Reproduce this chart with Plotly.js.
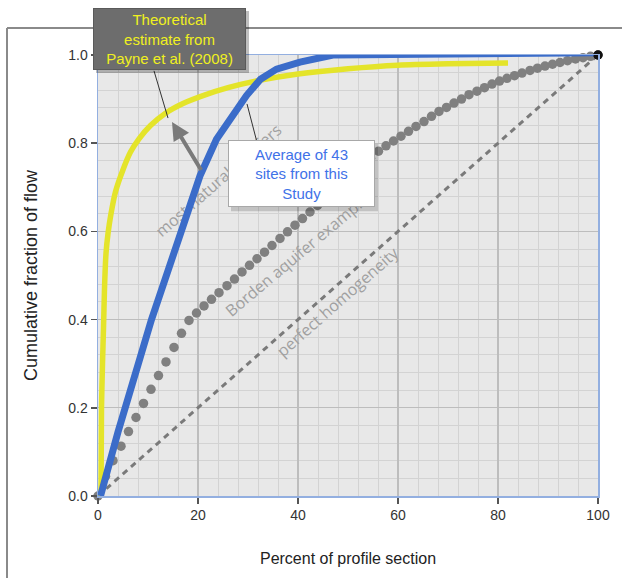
<!DOCTYPE html>
<html>
<head>
<meta charset="utf-8">
<script src="https://cdn.plot.ly/plotly-3.0.1.min.js"></script>
<style>
  html, body { margin: 0; padding: 0; background: #ffffff; }
  #chart { width: 622px; height: 578px; }
</style>
</head>
<body>
<div id="chart"></div>
<script>
// ---- Data ----
const xTicks = [0, 20, 40, 60, 80, 100];
const yTicks = [0.0, 0.2, 0.4, 0.6, 0.8, 1.0];

// Perfect homogeneity (dashed)
const homogX = [0, 100];
const homogY = [0, 1];

// Borden aquifer example (dotted)
const bordenX = [0,1.5,3.0,4.6,6.1,7.6,9.1,10.6,12.1,13.6,15.2,16.7,18.2,19.7,21.2,22.7,24.2,25.8,27.3,28.8,30.3,31.8,33.3,34.8,36.4,37.9,39.4,40.9,42.4,43.9,45.5,47.0,48.5,50.0,51.5,53.0,54.5,56.1,57.6,59.1,60.6,62.1,63.6,65.2,66.7,68.2,69.7,71.2,72.7,74.2,75.8,77.3,78.8,80.3,81.8,83.3,84.8,86.4,87.9,89.4,90.9,92.4,93.9,95.5,97.0,98.5,100];
const bordenY = [0,0.045,0.08,0.113,0.146,0.178,0.21,0.242,0.273,0.304,0.337,0.369,0.398,0.415,0.431,0.446,0.461,0.477,0.492,0.508,0.523,0.538,0.553,0.568,0.584,0.599,0.614,0.629,0.644,0.659,0.675,0.69,0.704,0.72,0.735,0.75,0.766,0.782,0.794,0.805,0.816,0.827,0.838,0.849,0.861,0.872,0.881,0.891,0.9,0.91,0.918,0.926,0.934,0.941,0.947,0.953,0.959,0.965,0.97,0.975,0.979,0.983,0.987,0.991,0.994,0.997,1.0];

// Theoretical estimate from Payne et al. (2008) (yellow)
const payneX = [0.6, 0.7, 0.9, 1.1, 1.3, 1.6, 2.0, 2.6, 3.5, 5.0, 6.5, 8.2, 10.5, 13.5, 17, 21, 26, 32, 40, 50, 60, 70, 82];
const payneY = [0.0, 0.2, 0.3, 0.38, 0.47, 0.55, 0.595, 0.64, 0.69, 0.74, 0.78, 0.81, 0.84, 0.868, 0.89, 0.908, 0.926, 0.942, 0.957, 0.969, 0.977, 0.98, 0.982];

// Average of 43 sites from this Study (blue)
const studyX = [0.5, 4, 10.7, 13.1, 16.4, 20.4, 23.7, 26.4, 29.7, 32.5, 35.7, 40.4, 47, 99.5];
const studyY = [0, 0.145, 0.40, 0.483, 0.597, 0.726, 0.809, 0.855, 0.908, 0.945, 0.968, 0.984, 1.0, 1.005];

// Text
const xTitle = 'Percent of profile section';
const yTitle = 'Cumulative fraction of flow';
const payneLabel = 'Theoretical<br>estimate from<br>Payne et al. (2008)';
const studyLabel = 'Average of 43<br>sites from this<br>Study';
const lblNatural = 'most natural aquifers';
const lblBorden = 'Borden aquifer example';
const lblHomog = 'perfect homogeneity';

// ---- Traces ----
const lastIdx = bordenX.length - 1;
const traces = [
  {
    x: homogX, y: homogY, type: 'scatter', mode: 'lines',
    line: { color: '#7a7a7a', width: 3, dash: '6px,5px' },
    hoverinfo: 'skip', cliponaxis: false
  },
  {
    x: bordenX, y: bordenY, type: 'scatter', mode: 'markers',
    marker: { size: 9.5, color: bordenX.map((v, i) => i === lastIdx ? '#111111' : '#808080') },
    hoverinfo: 'skip', cliponaxis: false
  },
  {
    x: payneX, y: payneY, type: 'scatter', mode: 'lines',
    line: { color: '#e4e42a', width: 5.5, shape: 'spline', smoothing: 0.5 },
    hoverinfo: 'skip', cliponaxis: false
  },
  {
    x: studyX, y: studyY, type: 'scatter', mode: 'lines',
    line: { color: '#3b6cc9', width: 7 },
    hoverinfo: 'skip', cliponaxis: false
  },
  {
    x: [bordenX[lastIdx]], y: [bordenY[lastIdx]], type: 'scatter', mode: 'markers',
    marker: { size: 9, color: '#111111' },
    hoverinfo: 'skip', cliponaxis: false
  }
];

const labelFont = { family: 'Open Sans, sans-serif', size: 16, color: '#a0a0a0' };
function textLine(x0, y0, x1, y1, txt) {
  return {
    type: 'line', xref: 'x', yref: 'y', x0: x0, y0: y0, x1: x1, y1: y1,
    layer: 'between',
    line: { color: 'rgba(0,0,0,0)', width: 0 },
    label: { text: txt, font: labelFont, textposition: 'middle', yanchor: 'middle', textangle: 'auto' }
  };
}

const layout = {
  width: 622, height: 578,
  margin: { l: 98, r: 24, t: 55, b: 82 },
  paper_bgcolor: '#ffffff',
  plot_bgcolor: '#e8e8e8',
  showlegend: false,
  font: { family: 'Liberation Sans, Arial, sans-serif', color: '#333' },
  xaxis: {
    range: [0, 100], tickvals: xTicks, ticktext: xTicks.map(String),
    ticks: 'outside', ticklen: 6, tickwidth: 1.5, tickcolor: '#555',
    tickfont: { size: 14, color: '#333' },
    showline: true, linecolor: '#93afe0', linewidth: 1.5, mirror: true,
    showgrid: true, gridcolor: '#bdbdbd', gridwidth: 1.2, zeroline: false,
    minor: { dtick: 4, showgrid: true, gridcolor: '#d3d3d3', gridwidth: 1, ticks: '' },
    title: { text: xTitle, font: { size: 16, color: '#222' }, standoff: 30 },
    fixedrange: true
  },
  yaxis: {
    range: [0, 1], tickvals: yTicks, ticktext: yTicks.map(v => v.toFixed(1)),
    ticks: 'outside', ticklen: 6, tickwidth: 1.5, tickcolor: '#555',
    tickfont: { size: 14, color: '#333' },
    showline: true, linecolor: '#93afe0', linewidth: 1.5, mirror: true,
    showgrid: true, gridcolor: '#bdbdbd', gridwidth: 1.2, zeroline: false,
    minor: { dtick: 0.04, showgrid: true, gridcolor: '#d3d3d3', gridwidth: 1, ticks: '' },
    title: { text: yTitle, font: { size: 18, color: '#222' }, standoff: 26 },
    fixedrange: true
  },
  shapes: [
    // outer frame (top and left)
    { type: 'line', xref: 'paper', yref: 'paper', x0: -0.182, y0: 1.0614, x1: 1.06, y1: 1.0614,
      line: { color: '#8a8a8a', width: 2 } },
    { type: 'line', xref: 'paper', yref: 'paper', x0: -0.182, y0: 1.0614, x1: -0.182, y1: -0.2,
      line: { color: '#8a8a8a', width: 2 } },
    // rotated labels
    textLine(15.16, 0.6245, 33.24, 0.804, lblNatural),
    textLine(30.7, 0.4577, 49.1, 0.633, lblBorden),
    textLine(39, 0.3486, 57, 0.5286, lblHomog),
    // leader lines
    { type: 'line', xref: 'x', yref: 'y', x0: 11.2, y0: 0.964, x1: 14.0, y1: 0.857,
      line: { color: '#333', width: 1 } },
    { type: 'line', xref: 'x', yref: 'y', x0: 31.8, y0: 0.802, x1: 29.8, y1: 0.889,
      line: { color: '#333', width: 1 } },
    // box shadows (offset right/down)
    { type: 'rect', xref: 'paper', yref: 'paper', x0: 0.266, y0: 0.6455, x1: 0.560, y1: 0.798,
      line: { width: 0 }, fillcolor: 'rgba(0,0,0,0.16)' },
    { type: 'rect', xref: 'paper', yref: 'paper', x0: -0.004, y0: 0.959, x1: 0.302, y1: 1.100,
      line: { width: 0 }, fillcolor: 'rgba(0,0,0,0.25)' }
  ],
  annotations: [
    // gray arrow
    { x: 14.8, y: 0.848, ax: 20.8, ay: 0.736, xref: 'x', yref: 'y', axref: 'x', ayref: 'y',
      text: '', showarrow: true, arrowhead: 2, arrowsize: 0.9, arrowwidth: 4, arrowcolor: '#7a7a7a', standoff: 0 },
    // Payne box
    { x: 0.143, y: 1.0364, xref: 'paper', yref: 'paper', xanchor: 'center', yanchor: 'middle',
      text: payneLabel, showarrow: false, align: 'center',
      font: { family: 'Liberation Sans, Arial, sans-serif', size: 15, color: '#f0f020' },
      bgcolor: '#6d6d6d', bordercolor: '#5a5a5a', borderwidth: 1, borderpad: 1,
      width: 149, height: 58 },
    // Study box
    { x: 0.407, y: 0.7307, xref: 'paper', yref: 'paper', xanchor: 'center', yanchor: 'middle',
      text: studyLabel, showarrow: false, align: 'center',
      font: { family: 'Liberation Sans, Arial, sans-serif', size: 15, color: '#3f72e8' },
      bgcolor: '#ffffff', bordercolor: '#a8a8a8', borderwidth: 1, borderpad: 1,
      width: 143, height: 63 }
  ]
};

Plotly.newPlot('chart', traces, layout, { displayModeBar: false, staticPlot: true });
</script>
</body>
</html>
